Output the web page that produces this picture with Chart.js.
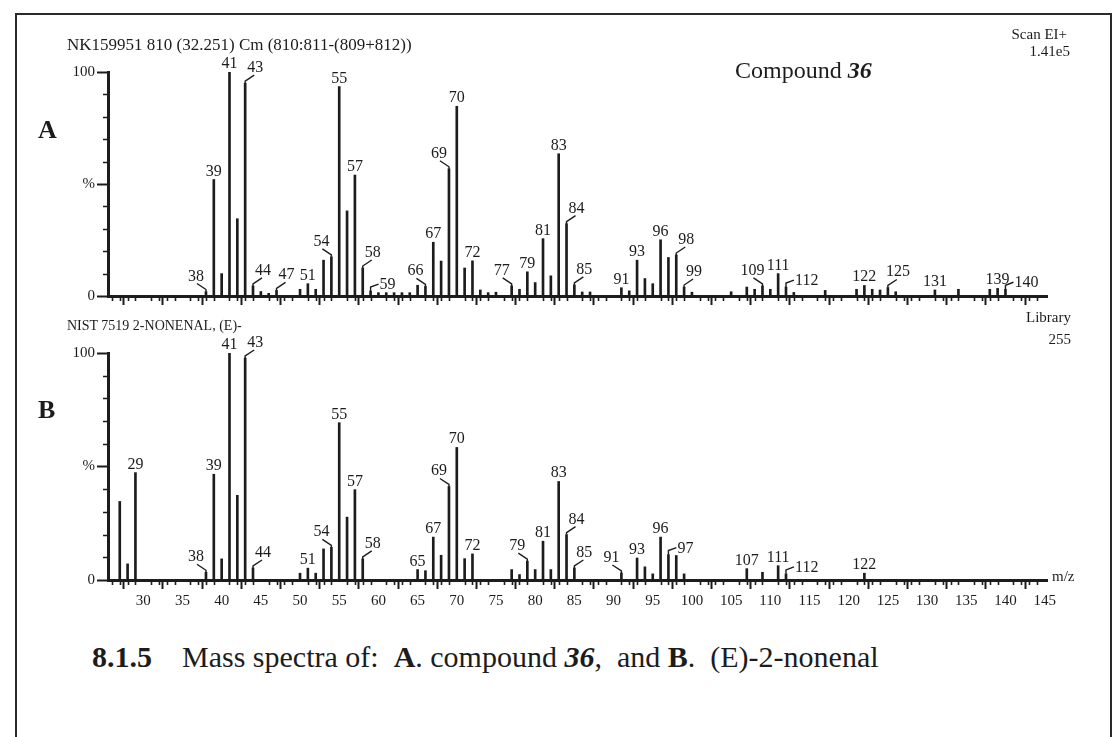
<!DOCTYPE html>
<html>
<head>
<meta charset="utf-8">
<script src="https://cdn.jsdelivr.net/npm/chart.js@4.4.0/dist/chart.umd.min.js"></script>
<style>
  body { margin: 0; background: #fff; }
  #page { position: relative; width: 1120px; height: 737px; overflow: hidden;
          font-family: "Liberation Serif", "DejaVu Serif", serif; color: #1c1c1c; }
  #frame { position: absolute; left: 15px; top: 13px; width: 1093px; height: 760px;
           border: 2px solid #2a2a2a; }
  canvas { position: absolute; left: 0; }
  #specA { top: 0; }
  #specB { top: 300px; }
  .t { position: absolute; white-space: nowrap; line-height: 1; }
</style>
</head>
<body>
<div id="page">
  <div id="frame"></div>
  <canvas id="specA" width="1120" height="330"></canvas>
  <canvas id="specB" width="1120" height="340"></canvas>

  <div class="t" style="left:67px; top:36px; font-size:17px;">NK159951 810 (32.251) Cm (810:811-(809+812))</div>
  <div class="t" style="right:53px; top:27px; font-size:15px;">Scan EI+</div>
  <div class="t" style="right:50px; top:44px; font-size:15px;">1.41e5</div>
  <div class="t" style="left:735px; top:58px; font-size:24px;">Compound <b><i>36</i></b></div>
  <div class="t" style="left:38px; top:117px; font-size:26px; font-weight:bold;">A</div>

  <div class="t" style="left:67px; top:319px; font-size:14px;">NIST 7519 2-NONENAL, (E)-</div>
  <div class="t" style="right:49px; top:310px; font-size:15px;">Library</div>
  <div class="t" style="right:49px; top:332px; font-size:15px;">255</div>
  <div class="t" style="left:38px; top:397px; font-size:26px; font-weight:bold;">B</div>
  <div class="t" style="left:1052px; top:569px; font-size:15px;">m/z</div>

  <div class="t" style="left:92px; top:642px; font-size:30px;"><b>8.1.5</b>&nbsp;&nbsp;&nbsp;&nbsp;Mass spectra of:&nbsp; <b>A</b>. compound <b><i>36</i></b>,&nbsp; and <b>B</b>.&nbsp; (E)-2-nonenal</div>
</div>

<script>
// compound 36, scan 810
const massA = [38, 39, 40, 41, 42, 43, 44, 45, 46, 47, 50, 51, 52, 53, 54, 55, 56, 57, 58, 59,
               60, 61, 62, 63, 64, 65, 66, 67, 68, 69, 70, 71, 72, 73, 74, 75, 77, 78, 79, 80,
               81, 82, 83, 84, 85, 86, 87, 91, 92, 93, 94, 95, 96, 97, 98, 99, 100, 105, 107, 108,
               109, 110, 111, 112, 113, 117, 121, 122, 123, 124, 125, 126, 131, 134, 138, 139, 140];
const intensA = [2, 52, 10, 100, 34.5, 95, 4.5, 2, 1.2, 2.5, 3, 5.5, 3, 16, 17.5, 93.5, 38, 54, 12.5, 2.2,
                 1.5, 1.5, 1.5, 1.5, 1.5, 4.8, 4.3, 24, 15.6, 56.8, 84.7, 12.5, 15.7, 2.7, 1.5, 1.7, 4.5, 3, 10.8, 6,
                 25.6, 9, 63.5, 32.3, 5, 1.8, 1.8, 3.7, 2.3, 16, 7.8, 5.5, 25.1, 17.2, 18.3, 4, 1.7, 1.9, 4, 3,
                 4.5, 3, 10, 4, 1.6, 2.5, 3, 4.7, 3, 2.7, 3.8, 1.9, 2.7, 3, 3, 3.4, 3];
const peakLabelsA = [38, 39, 41, 43, 44, 47, 51, 54, 55, 57, 58, 59, 66, 67, 69, 70, 72, 77, 79, 81,
                     83, 84, 85, 91, 93, 96, 98, 99, 109, 111, 112, 122, 125, 131, 139, 140];
// -1 label up-left, 0 straight above, 1 up-right, 2 beside on the right
const labelSideA = [-1, 0, 0, 1, 1, 1, 0, -1, 0, 0, 1, 2, -1, 0, -1, 0, 0, -1, 0, 0,
                    0, 1, 1, 0, 0, 0, 1, 1, -1, 0, 2, 0, 1, 0, 0, 2];

// library spectrum, 2-nonenal (E)
const massB = [27, 28, 29, 38, 39, 40, 41, 42, 43, 44, 50, 51, 52, 53, 54, 55, 56, 57, 58, 65,
               66, 67, 68, 69, 70, 71, 72, 77, 78, 79, 80, 81, 82, 83, 84, 85, 91, 93, 94, 95,
               96, 97, 98, 99, 107, 109, 111, 112, 122];
const intensB = [34.6, 7.1, 47.3, 3.4, 46.6, 9.3, 100, 37.3, 97.8, 5.3, 3, 5.2, 3, 13.7, 14.4, 69.3, 27.7, 39.8, 9.3, 4.6,
                 4.1, 18.9, 10.9, 41.2, 58.4, 9.4, 11.5, 4.6, 2.4, 8.3, 4.6, 17.1, 4.6, 43.4, 20, 5.3, 3.1, 9.7, 5.8, 2.7,
                 18.9, 11.2, 10.8, 2.7, 5, 3.4, 6.3, 2.7, 3];
const peakLabelsB = [29, 38, 39, 41, 43, 44, 51, 54, 55, 57, 58, 65, 67, 69, 70, 72, 79, 81, 83, 84,
                     85, 91, 93, 96, 97, 107, 111, 112, 122];
const labelSideB = [0, -1, 0, 0, 1, 1, 0, -1, 0, 0, 1, 0, 0, -1, 0, 0, -1, 0, 0, 1,
                    1, -1, 0, 0, 2, 0, 0, 2, 0];

const mzTicks = [30, 35, 40, 45, 50, 55, 60, 65, 70, 75, 80, 85, 90, 95, 100, 105, 110, 115, 120, 125, 130, 135, 140, 145];
const intensityTicks = {0: '0', 50: '%', 100: '100'};

const INK = '#1c1c1c';
const FONT = '"Liberation Serif", "DejaVu Serif", serif';

// minor ticks plus the m/z labels over the peaks
const spectrumMarks = {
  id: 'spectrumMarks',
  afterDatasetsDraw(chart, args, opts) {
    const ctx = chart.ctx;
    const xs = chart.scales.x, ys = chart.scales.y;
    const meta = chart.getDatasetMeta(0);
    const masses = chart.data.datasets[0].data.map(p => p.x);
    ctx.save();
    ctx.strokeStyle = INK;
    ctx.lineWidth = 1.6;
    ctx.beginPath();
    for (let m = Math.ceil(xs.min); m <= xs.max; m++) {
      if (m % 5 === 0) continue;
      const px = Math.round(xs.getPixelForValue(m)) + 0.5;
      ctx.moveTo(px, ys.bottom);
      ctx.lineTo(px, ys.bottom + 5);
    }
    for (let v = 10; v < 100; v += 10) {
      if (v === 50) continue;
      const py = Math.round(ys.getPixelForValue(v)) + 0.5;
      ctx.moveTo(xs.left, py);
      ctx.lineTo(xs.left - 5, py);
    }
    ctx.stroke();

    ctx.fillStyle = INK;
    ctx.font = '16px ' + FONT;
    ctx.textBaseline = 'alphabetic';
    ctx.lineWidth = 1.4;
    opts.peaks.forEach((mz, i) => {
      const el = meta.data[masses.indexOf(mz)];
      if (!el) return;
      const x = el.x, top = el.y;
      const side = opts.sides[i];
      ctx.beginPath();
      if (side === 0) {
        ctx.textAlign = 'center';
        ctx.fillText(String(mz), x, top - 4);
        return;
      }
      if (side === 2) {
        ctx.moveTo(x, top);
        ctx.lineTo(x, top - 4);
        ctx.lineTo(x + 8, top - 7);
        ctx.stroke();
        ctx.textAlign = 'left';
        ctx.fillText(String(mz), x + 9, top - 2);
        return;
      }
      ctx.moveTo(x, top);
      ctx.lineTo(x, top - 2);
      ctx.lineTo(x + side * 9, top - 8);
      ctx.stroke();
      ctx.textAlign = 'center';
      ctx.fillText(String(mz), x + side * 10, top - 11);
    });
    ctx.restore();
  }
};

function spectrum(id, masses, intens, peaks, sides, showMz, pad, axisHeight) {
  return new Chart(document.getElementById(id), {
    type: 'bar',
    data: {
      datasets: [{
        data: masses.map((m, i) => ({x: m, y: intens[i]})),
        backgroundColor: INK,
        barThickness: 2
      }]
    },
    options: {
      responsive: false,
      animation: false,
      layout: {padding: pad},
      plugins: {
        legend: {display: false},
        tooltip: {enabled: false},
        spectrumMarks: {peaks: peaks, sides: sides}
      },
      scales: {
        x: {
          type: 'linear',
          min: 25.5,
          max: 145.3,
          offset: false,
          afterFit: s => { s.height = axisHeight; },
          afterBuildTicks: s => { s.ticks = mzTicks.map(v => ({value: v})); },
          ticks: {
            display: showMz,
            color: INK,
            padding: 3,
            font: {family: FONT, size: 15}
          },
          grid: {drawOnChartArea: false, drawTicks: true, tickLength: 9, tickWidth: 2, tickColor: INK},
          border: {display: true, width: 3, color: INK}
        },
        y: {
          min: 0,
          max: 100,
          afterFit: s => { s.width = 108; },
          afterBuildTicks: s => { s.ticks = [0, 50, 100].map(v => ({value: v})); },
          ticks: {
            color: INK,
            padding: 2,
            font: {family: FONT, size: 15},
            callback: v => intensityTicks[v]
          },
          grid: {drawOnChartArea: false, drawTicks: true, tickLength: 11, tickWidth: 2, tickColor: INK},
          border: {display: true, width: 3, color: INK}
        }
      }
    },
    plugins: [spectrumMarks]
  });
}

spectrum('specA', massA, intensA, peakLabelsA, labelSideA, false, {left: 0, top: 72, right: 73, bottom: 0}, 34);
spectrum('specB', massB, intensB, peakLabelsB, labelSideB, true, {left: 0, top: 53, right: 73, bottom: 0}, 60);
</script>
</body>
</html>
